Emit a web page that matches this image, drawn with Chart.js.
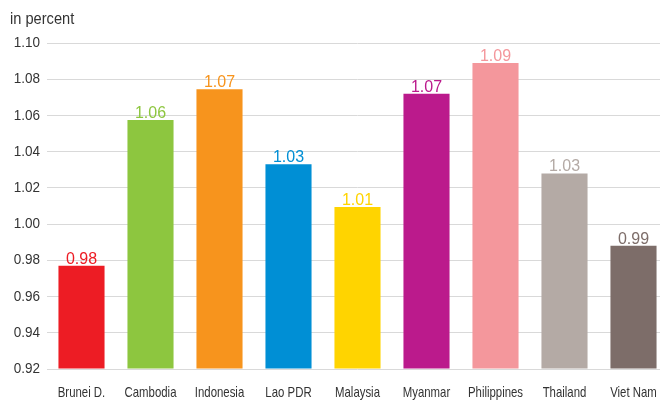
<!DOCTYPE html>
<html>
<head>
<meta charset="utf-8">
<script src="https://cdn.jsdelivr.net/npm/chart.js@4/dist/chart.umd.min.js"></script>
<style>
  html, body { margin: 0; padding: 0; background: #fff; overflow: hidden; width: 660px; height: 403px; }
  #wrap { position: absolute; left: 0; top: 0; width: 668px; height: 403px; }
  #unit { position: absolute; left: 10px; top: 9px; font: 17px "Liberation Sans", sans-serif; color: #333; transform: scaleX(0.86); transform-origin: 0 0; }
</style>
</head>
<body>
<div id="wrap"><canvas id="chart"></canvas></div>
<div id="unit">in percent</div>
<script>
const countries = ['Brunei D.', 'Cambodia', 'Indonesia', 'Lao PDR', 'Malaysia', 'Myanmar', 'Philippines', 'Thailand', 'Viet Nam']
const ratios = [0.977, 1.0575, 1.0745, 1.033, 1.0095, 1.072, 1.089, 1.028, 0.988]
const valueLabels = ['0.98', '1.06', '1.07', '1.03', '1.01', '1.07', '1.09', '1.03', '0.99']
const barColors = ['#ED1C24', '#8DC63F', '#F7941D', '#008FD5', '#FFD400', '#BB1A8C', '#F4979C', '#B4AAA5', '#7D6D69']
const yTicks = ['0.92', '0.94', '0.96', '0.98', '1.00', '1.02', '1.04', '1.06', '1.08', '1.10']

// condensed-looking axis labels: no narrow font installed, so squeeze the text
function squeezedText(ctx, text, x, y, sx, align) {
  ctx.save()
  ctx.translate(x, y)
  ctx.scale(sx, 1)
  ctx.textAlign = align
  ctx.fillText(text, 0, 0)
  ctx.restore()
}

const axisLabelPlugin = {
  id: 'axisLabels',
  afterDraw(chart) {
    const ctx = chart.ctx
    const xs = chart.scales.x
    const ys = chart.scales.y
    ctx.save()
    ctx.fillStyle = '#333'
    ctx.textBaseline = 'middle'
    ctx.font = '15px "Liberation Sans", Arial, sans-serif'
    countries.forEach((c, i) => {
      squeezedText(ctx, c, xs.getPixelForTick(i), 393, 0.76, 'center')
    })
    ctx.font = '15px "Liberation Sans", Arial, sans-serif'
    yTicks.forEach(t => {
      squeezedText(ctx, t, 40, ys.getPixelForValue(parseFloat(t)), 0.9, 'right')
    })
    ctx.restore()
  }
}

// draws the rounded value above each bar in the bar's colour
const valueLabelPlugin = {
  id: 'valueLabels',
  afterDatasetsDraw(chart) {
    const ctx = chart.ctx
    const meta = chart.getDatasetMeta(0)
    ctx.save()
    ctx.font = '16px "Liberation Sans", Arial, sans-serif'
    ctx.textAlign = 'center'
    ctx.textBaseline = 'alphabetic'
    meta.data.forEach((bar, i) => {
      ctx.fillStyle = barColors[i]
      ctx.fillText(valueLabels[i], bar.x, bar.y - 2)
    })
    ctx.restore()
  }
}

new Chart(document.getElementById('chart'), {
  type: 'bar',
  data: {
    labels: countries,
    datasets: [{
      data: ratios,
      backgroundColor: barColors,
      borderWidth: 0,
      barPercentage: 0.668,
      categoryPercentage: 1.0,
      base: 0.92,
    }]
  },
  options: {
    responsive: true,
    maintainAspectRatio: false,
    animation: false,
    devicePixelRatio: 1,
    layout: { padding: { top: 43, right: 0, left: 0, bottom: 0 } },
    plugins: {
      legend: { display: false },
      tooltip: { enabled: false },
    },
    scales: {
      x: {
        grid: { display: false },
        border: { display: false },
        ticks: { display: false },
        afterFit(scale) { scale.height = 34 },
      },
      y: {
        min: 0.92,
        max: 1.10,
        grid: { color: '#d9d9d9', lineWidth: 1, drawTicks: false },
        border: { display: false },
        afterBuildTicks(scale) {
          scale.ticks = yTicks.map(t => ({ value: parseFloat(t) }))
        },
        ticks: { display: false },
        afterFit(scale) { scale.width = 47 },
      }
    }
  },
  plugins: [valueLabelPlugin, axisLabelPlugin]
})
</script>
</body>
</html>
